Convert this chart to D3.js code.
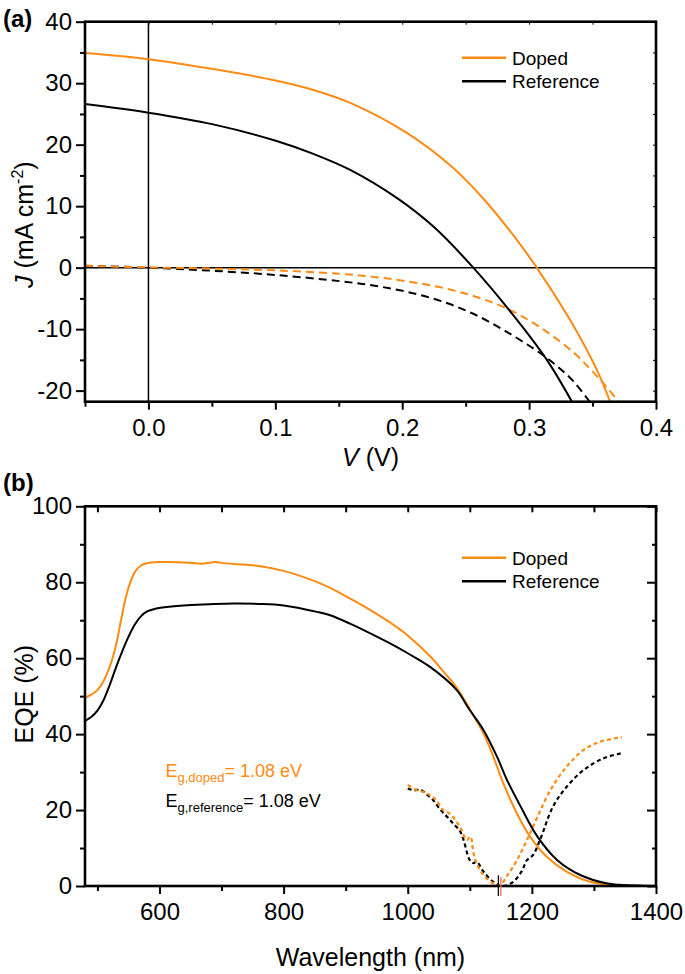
<!DOCTYPE html>
<html><head><meta charset="utf-8">
<script src="https://cdn.jsdelivr.net/npm/d3@7/dist/d3.min.js"></script>
<style>
body{margin:0;background:#fff}
svg{display:block}
text{font-family:"Liberation Sans",Arial,Helvetica,sans-serif;fill:#000}
</style>
</head><body>
<svg id="c" width="685" height="974"></svg>
<script>
// ---------- Panel (a): J–V data ----------
const vDomain = [-0.05, 0.4];
const jDomain = [-21.8, 40];
const vTicksMajor = [0.0, 0.1, 0.2, 0.3, 0.4];
const vTicksMinor = [-0.05, 0.05, 0.15, 0.25, 0.35];
const jTicksMajor = [-20, -10, 0, 10, 20, 30, 40];
const jTicksMinor = [-15, -5, 5, 15, 25, 35];

const dopedLightV = [-0.05, 0.0, 0.051, 0.101, 0.130, 0.159, 0.203, 0.238, 0.264, 0.290, 0.306, 0.332, 0.345, 0.356, 0.364];
const dopedLightJ = [34.9, 33.9, 32.3, 30.4, 28.9, 26.8, 22.0, 16.6, 11.2, 4.6, 0.0, -8.4, -13.2, -17.8, -21.9];

const refLightV = [-0.05, 0.0, 0.051, 0.101, 0.130, 0.159, 0.196, 0.225, 0.256, 0.287, 0.314, 0.334];
const refLightJ = [26.6, 25.2, 23.3, 20.6, 18.5, 15.9, 11.3, 6.6, 0.0, -7.6, -15.0, -21.9];

const dopedDarkV = [-0.05, 0.0, 0.05, 0.101, 0.151, 0.177, 0.203, 0.230, 0.256, 0.282, 0.308, 0.335, 0.350, 0.361, 0.371];
const dopedDarkJ = [0.3, 0.05, -0.15, -0.45, -1.0, -1.5, -2.2, -3.2, -4.6, -6.6, -9.6, -13.8, -16.9, -19.4, -21.9];

const refDarkV = [-0.05, 0.0, 0.05, 0.101, 0.151, 0.177, 0.203, 0.230, 0.256, 0.282, 0.308, 0.322, 0.335, 0.348];
const refDarkJ = [0.3, 0.0, -0.5, -1.2, -2.2, -2.9, -3.9, -5.4, -7.5, -10.4, -13.8, -16.0, -18.5, -21.9];

// ---------- Panel (b): EQE data ----------
const wlDomain = [480, 1400];
const eqeDomain = [0, 100];
const wlTicksMajor = [600, 800, 1000, 1200, 1400];
const wlTicksMinor = [500, 700, 900, 1100, 1300];
const eqeTicksMajor = [0, 20, 40, 60, 80, 100];
const eqeTicksMinor = [10, 30, 50, 70, 90];

const dopedEqeWl = [480, 490, 500, 510, 520, 530, 538, 545, 552, 560, 570, 580, 600, 640, 670, 690, 700, 720, 760, 800, 850, 875, 907, 929, 960, 982, 1000, 1036, 1060, 1079, 1100, 1122, 1138, 1154, 1176, 1197, 1224, 1256, 1294, 1342, 1400];
const dopedEqe   = [49.6, 50.4, 51.6, 54.0, 57.8, 63.5, 70.0, 75.5, 79.5, 82.6, 84.4, 85.0, 85.3, 85.2, 84.9, 85.3, 85.1, 84.8, 84.3, 83.0, 80.3, 78.5, 75.7, 73.7, 70.6, 68.2, 66.0, 60.5, 56.0, 52.2, 46.5, 40.2, 34.0, 27.0, 19.1, 13.0, 7.7, 3.8, 1.1, 0.1, 0.0];

const refEqeWl = [480, 490, 500, 510, 520, 530, 540, 550, 560, 570, 580, 595, 639, 680, 720, 760, 800, 854, 875, 907, 929, 982, 1000, 1036, 1079, 1098, 1122, 1144, 1160, 1182, 1209, 1241, 1278, 1320, 1342, 1400];
const refEqe   = [43.5, 44.5, 46.2, 49.0, 53.0, 57.6, 61.8, 65.6, 68.8, 71.0, 72.3, 73.1, 73.9, 74.2, 74.4, 74.3, 73.9, 72.2, 71.3, 69.1, 67.4, 63.0, 61.3, 57.7, 51.6, 46.8, 41.1, 34.0, 27.9, 20.9, 13.0, 6.8, 2.9, 0.7, 0.3, 0.0];

// dashed (derivative) curves
const dopedDerWl = [1000, 1014, 1025, 1036, 1045, 1057, 1068, 1084, 1095, 1101, 1106, 1111, 1122, 1138, 1149, 1159, 1176, 1192, 1209, 1230, 1256, 1283, 1310, 1345];
const dopedDer   = [26.6, 25.3, 24.8, 23.9, 22.8, 20.0, 19.0, 15.6, 12.1, 13.0, 8.6, 6.0, 2.9, 0.7, 0.3, 2.4, 6.8, 12.1, 18.2, 25.3, 31.4, 35.8, 38.0, 39.2];

const refDerWl = [1000, 1010, 1020, 1030, 1041, 1052, 1063, 1073, 1084, 1090, 1100, 1106, 1111, 1122, 1138, 1154, 1170, 1184, 1192, 1202, 1213, 1234, 1256, 1283, 1315, 1345];
const refDer   = [25.7, 25.2, 25.4, 24.2, 22.6, 20.2, 18.3, 16.5, 14.5, 12.1, 6.8, 6.0, 6.4, 3.8, 1.1, 0.0, 1.1, 4.0, 6.8, 8.2, 12.1, 20.9, 26.1, 30.5, 33.6, 35.0];

const bandgapMarkerWl = [1146, 1150];   // black (reference), red (doped)

const seriesNames = ["Doped", "Reference"];

// ---------- styling ----------
const ORANGE = "#ff8a14";
const BLACK = "#000000";
const MARK_RED = "#f07070";
const L = 85, R = 656;
const A = {top: 21.7, bottom: 401.7};
const B = {top: 506.3, bottom: 886};

const svg = d3.select("#c");

const xA = d3.scaleLinear().domain(vDomain).range([L, R]);
const yA = d3.scaleLinear().domain(jDomain).range([A.bottom, A.top]);
const xB = d3.scaleLinear().domain(wlDomain).range([L, R]);
const yB = d3.scaleLinear().domain(eqeDomain).range([B.bottom, B.top]);

const defs = svg.append("defs");
defs.append("clipPath").attr("id", "clipA").append("rect")
  .attr("x", L).attr("y", A.top).attr("width", R - L).attr("height", A.bottom - A.top);
defs.append("clipPath").attr("id", "clipB").append("rect")
  .attr("x", L).attr("y", B.top).attr("width", R - L).attr("height", B.bottom - B.top);

function line(x, y) {
  return d3.line().x(d => x(d[0])).y(d => y(d[1])).curve(d3.curveCatmullRom.alpha(0.5));
}
function zip(a, b) { return a.map((v, i) => [v, b[i]]); }
const hyph = f => (d => f(d).replace("\u2212", "-"));

function axes(x, y, P, o) {
  const g = svg.append("g");
  const fs = 24;
  const bM = g.append("g").attr("transform", `translate(0,${P.bottom})`)
    .call(d3.axisBottom(x).tickValues(o.xMajor).tickSize(8).tickPadding(9).tickFormat(o.xFmt));
  const bm = g.append("g").attr("transform", `translate(0,${P.bottom})`)
    .call(d3.axisBottom(x).tickValues(o.xMinor).tickSize(5).tickFormat(""));
  const lM = g.append("g").attr("transform", `translate(${L},0)`)
    .call(d3.axisLeft(y).tickValues(o.yMajor).tickSize(9).tickPadding(4).tickFormat(o.yFmt));
  const lm = g.append("g").attr("transform", `translate(${L},0)`)
    .call(d3.axisLeft(y).tickValues(o.yMinor).tickSize(5).tickFormat(""));
  const tM = g.append("g").attr("transform", `translate(0,${P.top})`)
    .call(d3.axisTop(x).tickValues(o.xMajor.concat(o.xMinor)).tickSize(-o.topLen).tickFormat(""));
  const rM = g.append("g").attr("transform", `translate(${R},0)`)
    .call(d3.axisRight(y).tickValues(o.yMajor).tickSize(-o.rightMajor).tickFormat(""));
  const rm = g.append("g").attr("transform", `translate(${R},0)`)
    .call(d3.axisRight(y).tickValues(o.yMinor).tickSize(-o.rightMinor).tickFormat(""));
  [bM, bm, lM, lm, tM, rM, rm].forEach(s => {
    s.select(".domain").remove();
    s.selectAll("line").attr("stroke", "#000").attr("stroke-width", 2);
    s.selectAll("text").attr("font-size", fs).attr("font-family", "Liberation Sans, Arial, sans-serif").attr("fill", "#000");
  });
  [tM, rM, rm].forEach(s => s.selectAll("line").attr("stroke-width", o.mirrorW));
  g.append("rect").attr("x", L).attr("y", P.top).attr("width", R - L).attr("height", P.bottom - P.top)
    .attr("fill", "none").attr("stroke", "#000").attr("stroke-width", 2.6);
}

// ---------- Panel (a) ----------
const gA = svg.append("g").attr("clip-path", "url(#clipA)");
gA.append("line").attr("x1", xA(0)).attr("x2", xA(0)).attr("y1", A.top).attr("y2", A.bottom)
  .attr("stroke", "#000").attr("stroke-width", 1.5);
gA.append("line").attr("x1", L).attr("x2", R).attr("y1", yA(0)).attr("y2", yA(0))
  .attr("stroke", "#000").attr("stroke-width", 1.5);

const la = line(xA, yA);
gA.append("path").attr("d", la(zip(refDarkV, refDarkJ))).attr("fill", "none")
  .attr("stroke", BLACK).attr("stroke-width", 2).attr("stroke-dasharray", "8,5");
gA.append("path").attr("d", la(zip(dopedDarkV, dopedDarkJ))).attr("fill", "none")
  .attr("stroke", ORANGE).attr("stroke-width", 2).attr("stroke-dasharray", "8,5");
gA.append("path").attr("d", la(zip(refLightV, refLightJ))).attr("fill", "none")
  .attr("stroke", BLACK).attr("stroke-width", 2);
gA.append("path").attr("d", la(zip(dopedLightV, dopedLightJ))).attr("fill", "none")
  .attr("stroke", ORANGE).attr("stroke-width", 2);

axes(xA, yA, A, {
  xMajor: vTicksMajor, xMinor: vTicksMinor, yMajor: jTicksMajor, yMinor: jTicksMinor,
  xFmt: hyph(d3.format(".1f")), yFmt: hyph(d3.format("d")), topLen: 3, rightMajor: 3, rightMinor: 3, mirrorW: 1
});

// ---------- Panel (b) ----------
const gB = svg.append("g").attr("clip-path", "url(#clipB)");
const lb = line(xB, yB);
gB.append("path").attr("d", lb(zip(refDerWl, refDer))).attr("fill", "none")
  .attr("stroke", BLACK).attr("stroke-width", 2.2).attr("stroke-dasharray", "4,3");
gB.append("path").attr("d", lb(zip(dopedDerWl, dopedDer))).attr("fill", "none")
  .attr("stroke", ORANGE).attr("stroke-width", 2.2).attr("stroke-dasharray", "4,3");
gB.append("path").attr("d", lb(zip(dopedEqeWl, dopedEqe))).attr("fill", "none")
  .attr("stroke", ORANGE).attr("stroke-width", 2);
gB.append("path").attr("d", lb(zip(refEqeWl, refEqe))).attr("fill", "none")
  .attr("stroke", BLACK).attr("stroke-width", 2);

axes(xB, yB, B, {
  xMajor: wlTicksMajor, xMinor: wlTicksMinor, yMajor: eqeTicksMajor, yMinor: eqeTicksMinor,
  xFmt: d3.format("d"), yFmt: d3.format("d"), topLen: 6, rightMajor: 9, rightMinor: 4, mirrorW: 2
});

// band gap markers
svg.append("line").attr("x1", xB(bandgapMarkerWl[0])).attr("x2", xB(bandgapMarkerWl[0]))
  .attr("y1", yB(2.8)).attr("y2", B.bottom + 10).attr("stroke", BLACK).attr("stroke-width", 1.2);
svg.append("line").attr("x1", xB(bandgapMarkerWl[1])).attr("x2", xB(bandgapMarkerWl[1]))
  .attr("y1", yB(2.4)).attr("y2", B.bottom + 10).attr("stroke", MARK_RED).attr("stroke-width", 1.4);

// ---------- legends ----------
function legend(y0) {
  const colors = [ORANGE, BLACK];
  seriesNames.forEach((n, i) => {
    const y = y0 + i * 23.5;
    svg.append("line").attr("x1", 462).attr("x2", 506).attr("y1", y).attr("y2", y)
      .attr("stroke", colors[i]).attr("stroke-width", 2.4);
    svg.append("text").attr("x", 512).attr("y", y + 7).attr("font-size", 19).text(n);
  });
}
legend(57.7);
legend(557.7);

// ---------- labels ----------
svg.append("text").attr("x", 3).attr("y", 27).attr("font-size", 24).attr("font-weight", "bold").text("(a)");
svg.append("text").attr("x", 3).attr("y", 491).attr("font-size", 24).attr("font-weight", "bold").text("(b)");

const vt = svg.append("text").attr("x", (L + R) / 2).attr("y", 466).attr("text-anchor", "middle").attr("font-size", 25);
vt.append("tspan").attr("font-style", "italic").text("V");
vt.append("tspan").text(" (V)");

svg.append("text").attr("x", (L + R) / 2).attr("y", 966).attr("text-anchor", "middle").attr("font-size", 25)
  .text("Wavelength (nm)");

const jt = svg.append("text").attr("transform", `translate(33,${(A.top + A.bottom) / 2 + 13}) rotate(-90)`)
  .attr("text-anchor", "middle").attr("font-size", 25);
jt.append("tspan").attr("font-style", "italic").text("J");
jt.append("tspan").text(" (mA cm");
jt.append("tspan").attr("font-size", 16).attr("dy", -10).text("-2");
jt.append("tspan").attr("dy", 10).text(")");

svg.append("text").attr("transform", `translate(33,${(B.top + B.bottom) / 2 - 2}) rotate(-90)`)
  .attr("text-anchor", "middle").attr("font-size", 25).text("EQE (%)");

const e1 = svg.append("text").attr("x", 165.5).attr("y", 776.7).attr("font-size", 18).style("fill", ORANGE);
e1.append("tspan").text("E");
e1.append("tspan").attr("font-size", 13).attr("dy", 5).text("g,doped");
e1.append("tspan").attr("dy", -5).text("= 1.08 eV");

const e2 = svg.append("text").attr("x", 165.5).attr("y", 806.7).attr("font-size", 18);
e2.append("tspan").text("E");
e2.append("tspan").attr("font-size", 13).attr("dy", 5).text("g,reference");
e2.append("tspan").attr("dy", -5).text("= 1.08 eV");
</script>
</body></html>
